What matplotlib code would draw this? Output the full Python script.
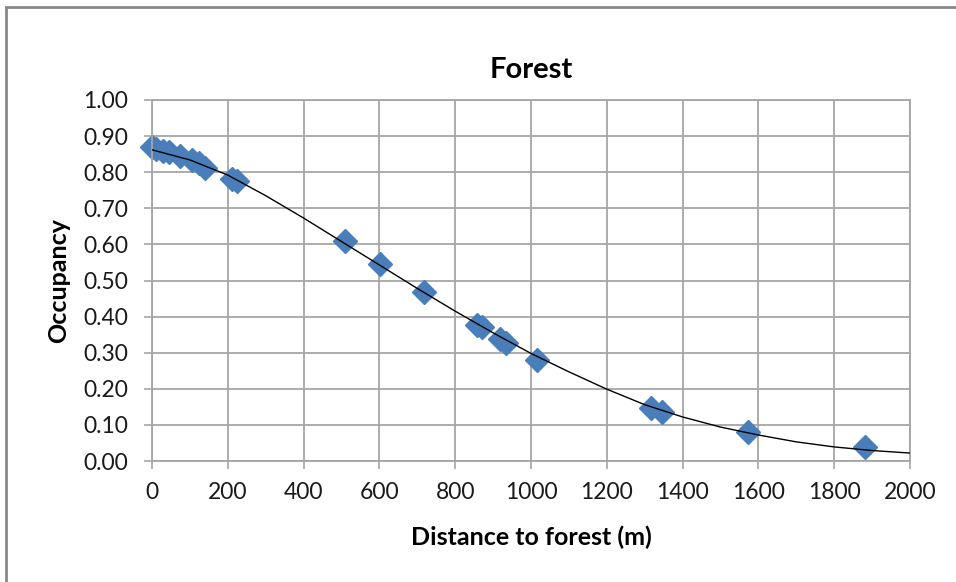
import matplotlib
matplotlib.use("Agg")
import matplotlib.pyplot as plt
from matplotlib.patches import Rectangle

# Observed points (distance in m, occupancy)
dist = [0, 10, 30, 45, 75, 105, 125, 140, 210, 225,
        509, 601, 718, 857, 871, 918, 934, 1016,
        1316, 1346, 1573, 1881]
occ = [0.870, 0.865, 0.860, 0.855, 0.845, 0.835, 0.825, 0.812, 0.782, 0.776,
       0.609, 0.545, 0.468, 0.378, 0.370, 0.338, 0.326, 0.280,
       0.148, 0.137, 0.080, 0.039]

# Fitted curve
curve_x = [0, 100, 200, 300, 400, 500, 600, 700, 800, 900, 1000,
           1100, 1200, 1300, 1400, 1500, 1600, 1700, 1800, 1900, 2000]
curve_y = [0.862, 0.834, 0.792, 0.735, 0.673, 0.608, 0.543, 0.478, 0.415, 0.355, 0.298,
           0.247, 0.199, 0.156, 0.122, 0.094, 0.072, 0.053, 0.039, 0.029, 0.022]

x_ticks = [0, 200, 400, 600, 800, 1000, 1200, 1400, 1600, 1800, 2000]
y_ticks = [0.0, 0.1, 0.2, 0.3, 0.4, 0.5, 0.6, 0.7, 0.8, 0.9, 1.0]

plt.rcParams['font.family'] = ['Lato', 'DejaVu Sans']

fig = plt.figure(figsize=(9.56, 5.82), dpi=100)
ax = fig.add_axes([152/956, 1 - 461/582, (910-152)/956, (461-100)/582])

grid_c = '#a6a6a6'
ax.set_xlim(0, 2000)
ax.set_ylim(0, 1.0)
ax.set_xticks(x_ticks)
ax.set_yticks(y_ticks)
ax.set_yticklabels([f"{v:.2f}" for v in y_ticks])
ax.grid(True, color=grid_c, linewidth=1.3)
ax.set_axisbelow(True)
for s in ax.spines.values():
    s.set_color(grid_c)
    s.set_linewidth(1.3)
ax.tick_params(axis='both', colors=grid_c, labelcolor='#1a1a1a', labelsize=16.5,
               length=6, width=1.2, direction='out')
ax.tick_params(axis='x', pad=9)
ax.tick_params(axis='y', pad=11)

ax.plot(curve_x, curve_y, color='black', linewidth=1.0, zorder=3)
ax.plot(dist, occ, linestyle='none', marker='D', markersize=12,
        color='#4a7ebb', markeredgecolor='#4a7ebb', zorder=2, clip_on=False)

ax.set_title('Forest', fontsize=21, fontweight='bold', y=1.061, pad=0)
ax.set_xlabel('Distance to forest (m)', fontsize=18, fontweight='bold')
ax.xaxis.set_label_coords(0.5, -0.18)
ax.set_ylabel('Occupancy', fontsize=18, fontweight='bold')
ax.yaxis.set_label_coords(-0.108, 0.5)

fig.patches.append(Rectangle((6/956, -0.1), 1.2, 1.1 - 7/582, transform=fig.transFigure,
                             fill=False, edgecolor='#888888', linewidth=2))

fig.savefig('out.png', dpi=100)
